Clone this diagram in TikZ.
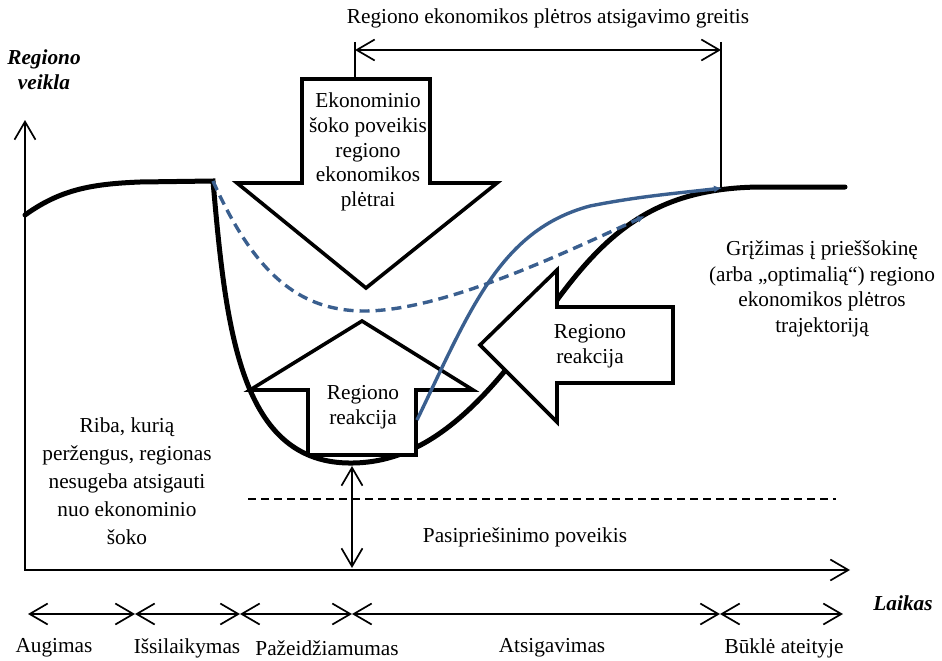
\documentclass[tikz,border=0pt]{standalone}
\usepackage{fontspec}
\setmainfont{Liberation Serif}
\usetikzlibrary{arrows.meta}
\definecolor{trajblue}{RGB}{58,95,143}

\begin{document}
\begin{tikzpicture}[x=1pt,y=-1pt,
  txt/.style={font=\fontsize{21.3pt}{25pt}\selectfont, align=center, inner sep=0pt},
  axislabel/.style={font=\fontsize{21.3pt}{25pt}\selectfont\bfseries\itshape, align=center, inner sep=0pt},
  thin/.style={line width=1.7pt},
  span/.style={thin, {Straight Barb[length=18pt,width=21pt]}-{Straight Barb[length=18pt,width=21pt]}},
  blockarrow/.style={draw=black, fill=white, line width=3.6pt, line join=miter},
  path curve/.style={line width=5pt, line cap=round},
  recovery/.style={draw=trajblue, line width=3.4pt, -{Latex[length=8pt,width=7pt]}},
]
\useasboundingbox (0,0) rectangle (942,661);

% axes
\coordinate (origin) at (25,570);
\coordinate (ytip) at (25,120);
\coordinate (xtip) at (850,570);
\draw[span] (ytip) -- (origin) -- (xtip);
\node[axislabel] (ylab) at (44,70) {Regiono\\veikla};
\node[axislabel] (xlab) at (903,603) {Laikas};

% performance trajectory
\draw[path curve] (25,215) .. controls (60,190) and (90,184) .. (140,182) -- (213,181)
  .. controls (226,330) and (240,465) .. (353,463)
  .. controls (430,462) and (490,400) .. (557,300)
  .. controls (610,228) and (660,188) .. (760,187) -- (845,187);

% threshold line and resistance span
\coordinate (thrL) at (248,499);
\coordinate (thrR) at (836,499);
\draw[thin, dash pattern=on 8pt off 5pt] (thrL) -- (thrR);
\coordinate (bottom) at (352,466);
\coordinate (bottomAxis) at (352,568);
\draw[span] (bottom) -- (bottomAxis);

% recovery speed dimension
\coordinate (dimLtop) at (355,42);
\coordinate (dimLbot) at (355,79);
\coordinate (dimRtop) at (721,42);
\coordinate (dimRbot) at (721,188);
\draw[thin] (dimLtop) -- (dimLbot);
\draw[thin] (dimRtop) -- (dimRbot);
\coordinate (dimL) at (355,50);
\coordinate (dimR) at (721,50);
\draw[span] (dimL) -- (dimR);
\node[txt] (speedlab) at (548,18) {Regiono ekonomikos plėtros atsigavimo greitis};

% block arrows
\draw[blockarrow] (302,79) -- (430,79) -- (430,183) -- (497,183) -- (366,288) -- (237,183) -- (302,183) -- cycle;
\draw[blockarrow] (308,455) -- (308,390) -- (250,390) -- (362,321) -- (473,390) -- (416,390) -- (416,455) -- cycle;
\draw[blockarrow] (673,307) -- (557,307) -- (557,270) -- (480,345) -- (557,422) -- (557,383) -- (673,383) -- cycle;

% alternative trajectories
\draw[recovery, dash pattern=on 10pt off 6pt] (213,181) .. controls (255,275) and (300,310) .. (362,311)
  .. controls (440,312) and (560,255) .. (645,216);
\draw[recovery] (417,420) .. controls (470,310) and (500,230) .. (590,206)
  .. controls (640,196) and (680,193) .. (722,188);

% texts
\node[txt, font=\fontsize{21.3pt}{24.7pt}\selectfont] (shock) at (368,152) {Ekonominio\\šoko poveikis\\regiono\\ekonomikos\\plėtrai};
\node[txt] (react1) at (363,407) {Regiono\\reakcija};
\node[txt] (react2) at (590,346) {Regiono\\reakcija};
\node[txt, font=\fontsize{21.3pt}{25.7pt}\selectfont] (return) at (822,289) {Grįžimas į prieššokinę\\(arba „optimalią“) regiono\\ekonomikos plėtros\\trajektoriją};
\node[txt, font=\fontsize{21.3pt}{28pt}\selectfont] (limit) at (127,481) {Riba, kurią\\peržengus, regionas\\nesugeba atsigauti\\nuo ekonominio\\šoko};
\node[txt] (resist) at (525,537) {Pasipriešinimo poveikis};

% phase timeline
\foreach \n/\x in {t0/28, t1/135, t2/240, t3/352, t4/720, t5/843}
  \coordinate (\n) at (\x,614);
\foreach \a/\b in {t0/t1, t1/t2, t2/t3, t3/t4, t4/t5}
  \draw[span] (\a) -- (\b);
\node[txt] (ph1) at (54,648) {Augimas};
\node[txt] (ph2) at (187,648) {Išsilaikymas};
\node[txt] (ph3) at (327,648) {Pažeidžiamumas};
\node[txt] (ph4) at (552,648) {Atsigavimas};
\node[txt] (ph5) at (784,648) {Būklė ateityje};
\end{tikzpicture}
\end{document}
